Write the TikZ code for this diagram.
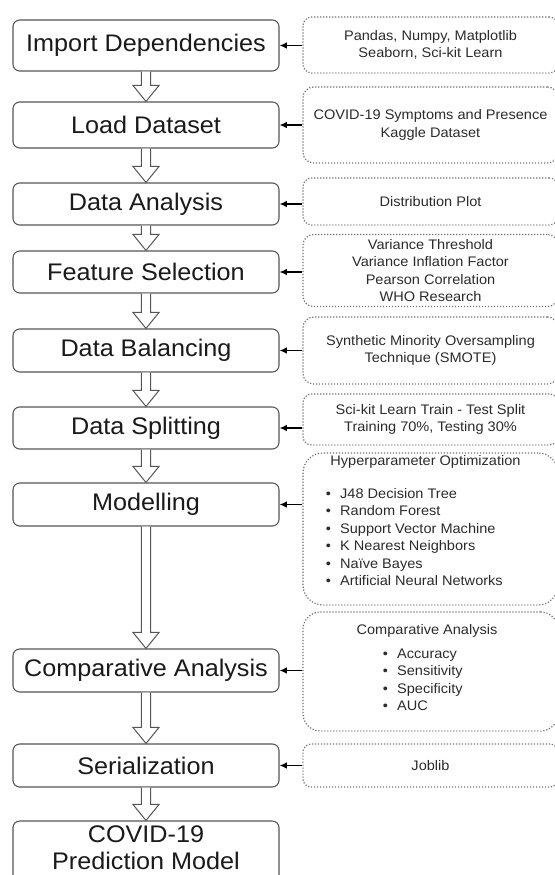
\documentclass[tikz,border=0pt]{standalone}
\usepackage{fontspec}
\setmainfont[FakeStretch=1.05]{Liberation Sans}
\usetikzlibrary{arrows.meta,calc}

\definecolor{stageline}{HTML}{555555}
\definecolor{stagetext}{HTML}{1A1A1A}
\definecolor{noteline}{HTML}{707070}
\definecolor{notetextcol}{HTML}{2B2B2B}

% hollow block arrow from the bottom of one stage to the top of the next
\newcommand\hollowarrow[2]{%
  \draw[blockarrow] let \p1=(#1.south), \p2=(#2.north) in
    (\x1-3.4pt,\y1) -- (\x1-3.4pt,\y2+12pt) -- (\x1-9.75pt,\y2+12pt) --
    (\x1,\y2) -- (\x1+9.75pt,\y2+12pt) -- (\x1+3.4pt,\y2+12pt) -- (\x1+3.4pt,\y1);}

\newcommand\itm[1]{\makebox[10.8pt][l]{•}#1}

\begin{document}
\begin{tikzpicture}[x=0.75pt,y=-0.75pt,
  stage/.style={draw=stageline, line width=0.8pt, rounded corners=5pt,
    fill=white, text=stagetext, minimum width=199.5pt, inner sep=0pt,
    align=center, font=\fontsize{18pt}{21pt}\selectfont},
  note/.style={draw=noteline, line width=0.9pt, dash pattern=on 0.9pt off 1.35pt,
    rounded corners=#1, minimum width=191.25pt, inner sep=0pt,
    align=center, text=notetextcol, font=\fontsize{10.4pt}{13pt}\selectfont},
  notetext/.style={inner sep=0pt, text=notetextcol, font=\fontsize{10.4pt}{13.1pt}\selectfont},
  feed/.style={draw=black, line width=1.15pt, -{Latex[length=5.5pt,width=5pt]}},
  blockarrow/.style={draw=stageline, line width=0.75pt, fill=white, line join=miter}]

\useasboundingbox (0,0) rectangle (555,875);
\clip (0,0) rectangle (555,875);

% pipeline stages
\node[stage, minimum height=51*0.75pt] (l1) at (146,45.5) {Import Dependencies};
\node[stage, minimum height=46*0.75pt] (l2) at (146,125) {Load Dataset};
\node[stage, minimum height=42*0.75pt] (l3) at (146,204) {Data Analysis};
\node[stage, minimum height=42*0.75pt] (l4) at (146,272) {Feature Selection};
\node[stage, minimum height=43*0.75pt] (l5) at (146,350.5) {Data Balancing};
\node[stage, minimum height=42*0.75pt] (l6) at (146,428) {Data Splitting};
\node[stage, minimum height=43*0.75pt] (l7) at (146,504.5) {Modelling};
\node[stage, minimum height=43*0.75pt] (l8) at (146,670.5) {Comparative Analysis};
\node[stage, minimum height=43*0.75pt] (l9) at (146,765.5) {Serialization};
% the last stage runs past the lower edge
\node[stage, minimum height=66*0.75pt] (l10) at (146,854) {};
\node[inner sep=0pt, text=stagetext, align=center, font=\fontsize{18pt}{20pt}\selectfont]
  (l10text) at (146,848) {COVID-19\\Prediction Model};

% notes on each stage
\node[note=6.5pt, minimum height=56*0.75pt] (r1) at (430.5,45) {Pandas, Numpy, Matplotlib\\Seaborn, Sci-kit Learn};
\node[note=8pt, minimum height=76*0.75pt] (r2) at (430.5,125) {COVID-19 Symptoms and Presence\\Kaggle Dataset};
\node[note=6.5pt, minimum height=47*0.75pt] (r3) at (430.5,201.5) {Distribution Plot};
\node[note=8pt, minimum height=72*0.75pt] (r4) at (430.5,270.5) {Variance Threshold\\Variance Inflation Factor\\Pearson Correlation\\WHO Research};
\node[note=8pt, minimum height=67*0.75pt] (r5) at (430.5,350.5) {Synthetic Minority Oversampling\\Technique (SMOTE)};
\node[note=6.5pt, minimum height=51*0.75pt] (r6) at (430.5,419.5) {Sci-kit Learn Train - Test Split\\Training 70\%, Testing 30\%};
\node[note=15pt, minimum height=152*0.75pt] (r7) at (430.5,529) {};
\node[note=13pt, minimum height=119*0.75pt] (r8) at (430.5,671.5) {};
\node[note=6pt, minimum height=43*0.75pt] (r9) at (430.5,765.5) {Joblib};

\node[notetext] (r7head) at (425.5,462) {Hyperparameter Optimization};
\node[notetext, align=left, anchor=north west] (r7list) at (325.5,488) {%
  \itm{J48 Decision Tree}\\\itm{Random Forest}\\\itm{Support Vector Machine}\\%
  \itm{K Nearest Neighbors}\\\itm{Naïve Bayes}\\\itm{Artificial Neural Networks}};

\node[notetext] (r8head) at (427,631) {Comparative Analysis};
\node[notetext, align=left, anchor=north west] (r8list) at (382.5,648.5) {%
  \itm{Accuracy}\\\itm{Sensitivity}\\\itm{Specificity}\\\itm{AUC}};

% flow between stages
\hollowarrow{l1}{l2}
\hollowarrow{l2}{l3}
\hollowarrow{l3}{l4}
\hollowarrow{l4}{l5}
\hollowarrow{l5}{l6}
\hollowarrow{l6}{l7}
\hollowarrow{l7}{l8}
\hollowarrow{l8}{l9}
\hollowarrow{l9}{l10}

% notes feeding into stages
\foreach \i in {1,...,9}
  \draw[feed] (r\i.west |- l\i.east) -- (l\i.east);

\end{tikzpicture}
\end{document}
